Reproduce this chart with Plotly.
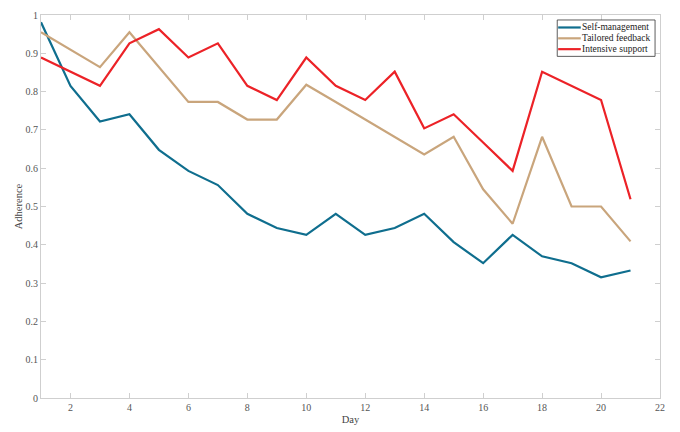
import plotly.graph_objects as go

days = list(range(1, 22))
self_management = [0.981, 0.815, 0.722, 0.741, 0.648, 0.593, 0.556, 0.481, 0.444, 0.426,
                   0.481, 0.426, 0.444, 0.481, 0.407, 0.352, 0.426, 0.370, 0.352, 0.315, 0.333]
tailored_feedback = [0.955, 0.909, 0.864, 0.955, 0.864, 0.773, 0.773, 0.727, 0.727, 0.818,
                     0.773, 0.727, 0.682, 0.636, 0.682, 0.545, 0.455, 0.682, 0.500, 0.500, 0.409]
intensive_support = [0.889, 0.852, 0.815, 0.926, 0.963, 0.889, 0.926, 0.815, 0.778, 0.889,
                     0.815, 0.778, 0.852, 0.704, 0.741, 0.667, 0.593, 0.852, 0.815, 0.778, 0.519]

series_names = ["Self-management", "Tailored feedback", "Intensive support"]
series_values = [self_management, tailored_feedback, intensive_support]
series_colors = ["#0f6e8e", "#c9a57c", "#ec2227"]

font_family = "'Times New Roman', 'Liberation Serif', serif"

fig = go.Figure()
for name, vals, col in zip(series_names, series_values, series_colors):
    fig.add_trace(go.Scatter(x=days, y=vals, mode="lines", name=name, showlegend=False,
                             line=dict(color=col, width=2.2)))

# compact legend box (MATLAB-style), drawn in paper coordinates
box_x0, box_x1, box_y0, box_y1 = 0.834, 0.992, 0.892, 0.987
row_h = 0.0283
first_off = 0.0196
fig.add_shape(type="rect", xref="paper", yref="paper", x0=box_x0, x1=box_x1, y0=box_y0, y1=box_y1,
              line=dict(color="#333333", width=0.8), fillcolor="white", layer="above")
for i, (name, col) in enumerate(zip(series_names, series_colors)):
    yy = box_y1 - first_off - i * row_h
    fig.add_shape(type="line", xref="paper", yref="paper", x0=box_x0 + 0.0015, x1=box_x0 + 0.038,
                  y0=yy, y1=yy, line=dict(color=col, width=2.2), layer="above")
    fig.add_annotation(xref="paper", yref="paper", x=box_x0 + 0.037, y=yy, text=name,
                       showarrow=False, xanchor="left", yanchor="middle",
                       font=dict(family=font_family, size=9.5, color="#222222"))

axis_common = dict(
    showline=True, linecolor="#cfcfcf", linewidth=1, mirror="ticks",
    ticks="inside", ticklen=5, tickcolor="#cfcfcf",
    showgrid=False, zeroline=False, automargin=False,
    tickfont=dict(family=font_family, size=10, color="#555555"),
)

fig.update_layout(
    width=680, height=432,
    margin=dict(l=41, r=20, t=15, b=34),
    paper_bgcolor="white", plot_bgcolor="white",
    font=dict(family=font_family, color="#444444"),
    xaxis=dict(range=[1, 22], tickvals=[2, 4, 6, 8, 10, 12, 14, 16, 18, 20, 22],
               title=dict(text="Day", font=dict(family=font_family, size=10.5, color="#444444"),
                          standoff=3),
               **axis_common),
    yaxis=dict(range=[0, 1], tickvals=[0, 0.1, 0.2, 0.3, 0.4, 0.5, 0.6, 0.7, 0.8, 0.9, 1],
               ticktext=["0", "0.1", "0.2", "0.3", "0.4", "0.5", "0.6", "0.7", "0.8", "0.9", "1"],
               title=dict(text="Adherence", font=dict(family=font_family, size=10.5, color="#444444"),
                          standoff=0),
               **axis_common),
    showlegend=False,
)

fig.write_html("out.html")
